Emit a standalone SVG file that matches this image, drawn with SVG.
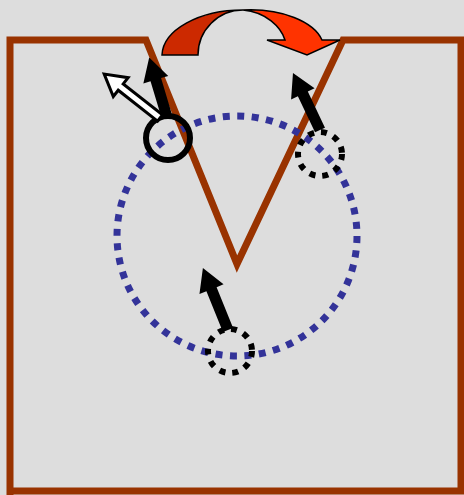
<svg xmlns="http://www.w3.org/2000/svg" width="464" height="495" viewBox="0 0 464 495">
<style>
.wall{fill:none;stroke:#993300;stroke-width:7;stroke-linejoin:miter}
.blue{fill:none;stroke:#333399;stroke-width:7;stroke-dasharray:7 7.5}
.dots{fill:none;stroke:#000;stroke-width:6;stroke-dasharray:6 7}
.solid{fill:#000}
.hollow{fill:#fff;stroke:#000;stroke-width:3}
.bend{stroke:#000;stroke-width:1.5;stroke-linejoin:miter}
</style>
<rect width="464" height="495" fill="#DDDDDD"/>
<g id="walls">
<path class="wall" d="M10,495 L10,40 L146,40 L237,264 L343,40 L464,40"/>
<path class="wall" d="M10,491 L461,491 L461,40"/>
</g>
<g id="orbit"><circle class="blue" cx="237" cy="236" r="120"/></g>
<g id="ring-left"><circle cx="168" cy="138" r="22" fill="none" stroke="#000" stroke-width="6"/></g>
<g id="ring-right"><circle class="dots" cx="320" cy="154" r="22"/></g>
<g id="ring-bottom"><circle class="dots" cx="230" cy="351" r="22"/></g>
<g id="connectors">
<polygon class="hollow" transform="translate(160,118) rotate(218.2)" points="0,-4 50,-4 50,-12 71,0 50,12 50,4 0,4"/>
<polygon class="solid" transform="translate(167,117) rotate(253.3)" points="0,-5.5 39,-5.5 39,-13 62,0 39,13 39,5.5 0,5.5"/>
<polygon class="solid" transform="translate(320,130) rotate(244.6)" points="0,-5.5 40,-5.5 40,-13 63,0 40,13 40,5.5 0,5.5"/>
<polygon class="solid" transform="translate(228,330) rotate(248)" points="0,-5.5 44,-5.5 44,-13 67,0 44,13 44,5.5 0,5.5"/>
</g>
<g id="swap-arrow">
<path class="bend" fill="#CC2900" d="M162,55 L198,55 A45,45 0 0 1 243,10 A81,46 0 0 0 162,55 Z"/>
<path class="bend" fill="#FF3300" d="M243,10 C266,12 281,27 285,40 L267,40 L307,55 L340,40 L322,40 C314,22 282,8 243,10 Z"/>
</g>
</svg>
